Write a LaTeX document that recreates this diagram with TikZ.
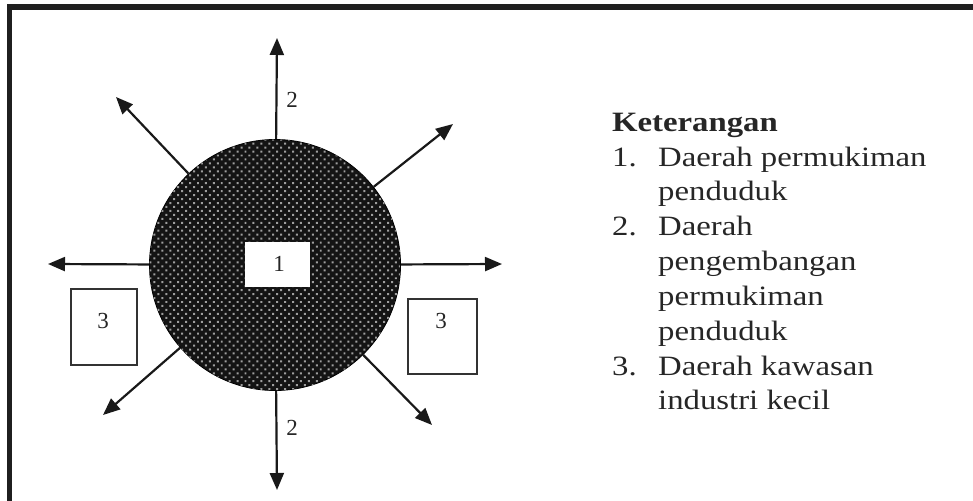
\documentclass[tikz,border=0pt]{standalone}
\usepackage{fontspec}
\setmainfont{Liberation Serif}
\newfontfamily\legendfont[FakeStretch=1.17]{Liberation Serif}
\usetikzlibrary{arrows.meta,patterns.meta}
\tikzset{
  arr/.style={line width=2.2pt, draw=black!90, -{Triangle[length=17pt,width=14pt]}},
  numlabel/.style={font=\fontsize{23}{23}\selectfont, text=black!85, inner sep=0pt},
  boxthree/.style={draw=black!80, line width=1.4pt, fill=white, inner sep=0pt},
  legend/.style={font=\legendfont\fontsize{28}{28}\selectfont, text=black!85, anchor=base west, inner sep=0pt},
  framestyle/.style={draw=black!88, line width=5.5pt}
}
\begin{document}
\begin{tikzpicture}[x=1pt,y=-1pt]
\useasboundingbox[fill=white] (0,0) rectangle (973,500);
\draw[framestyle] (9.5,505) -- (9.5,7) -- (980,7);
% tips
\coordinate (tu) at (277,38);
\coordinate (td) at (277,490);
\coordinate (tl) at (48,264);
\coordinate (tr) at (502,264);
\coordinate (tul) at (116,97);
\coordinate (tur) at (453,124);
\coordinate (tdl) at (103,415);
\coordinate (tdr) at (432,425);
% circle
\node[circle, minimum size=251pt, inner sep=0pt, draw=black, line width=0.8pt,
      fill=black!92, postaction={pattern={Dots[distance=5.6pt,radius=1.4pt,angle=45]}, pattern color=black!38}]
      (c) at (275,265) {};
\draw[arr] (c) -- (tu);
\draw[arr] (c) -- (td);
\draw[arr] (c) -- (tl);
\draw[arr] (c) -- (tr);
\draw[arr] (c) -- (tul);
\draw[arr] (c) -- (tur);
\draw[arr] (c) -- (tdl);
\draw[arr] (c) -- (tdr);
% box 1
\node[fill=white, minimum width=65pt, minimum height=45pt, inner sep=0pt] (b1) at (277.5,264.5) {};
\node[numlabel] (l1) at (279,264) {1};
% boxes 3
\node[boxthree, minimum width=66pt, minimum height=76pt] (b3l) at (104,327) {};
\node[numlabel] (l3l) at (103,321) {3};
\node[boxthree, minimum width=69pt, minimum height=75pt] (b3r) at (442.5,336.5) {};
\node[numlabel] (l3r) at (441,321) {3};
% labels 2
\node[numlabel] (l2u) at (292,100) {2};
\node[numlabel] (l2d) at (292,428) {2};
% legend
\node[legend, font=\legendfont\fontsize{28}{28}\selectfont\bfseries] (k) at (612,131) {Keterangan};
\node[legend] (n1) at (612,166) {1.};
\node[legend] (t1a) at (658,166) {Daerah permukiman};
\node[legend] (t1b) at (658,200) {penduduk};
\node[legend] (n2) at (612,235) {2.};
\node[legend] (t2a) at (658,235) {Daerah};
\node[legend] (t2b) at (658,270) {pengembangan};
\node[legend] (t2c) at (658,305) {permukiman};
\node[legend] (t2d) at (658,340) {penduduk};
\node[legend] (n3) at (612,375) {3.};
\node[legend] (t3a) at (658,375) {Daerah kawasan};
\node[legend] (t3b) at (658,409) {industri kecil};
\end{tikzpicture}
\end{document}
